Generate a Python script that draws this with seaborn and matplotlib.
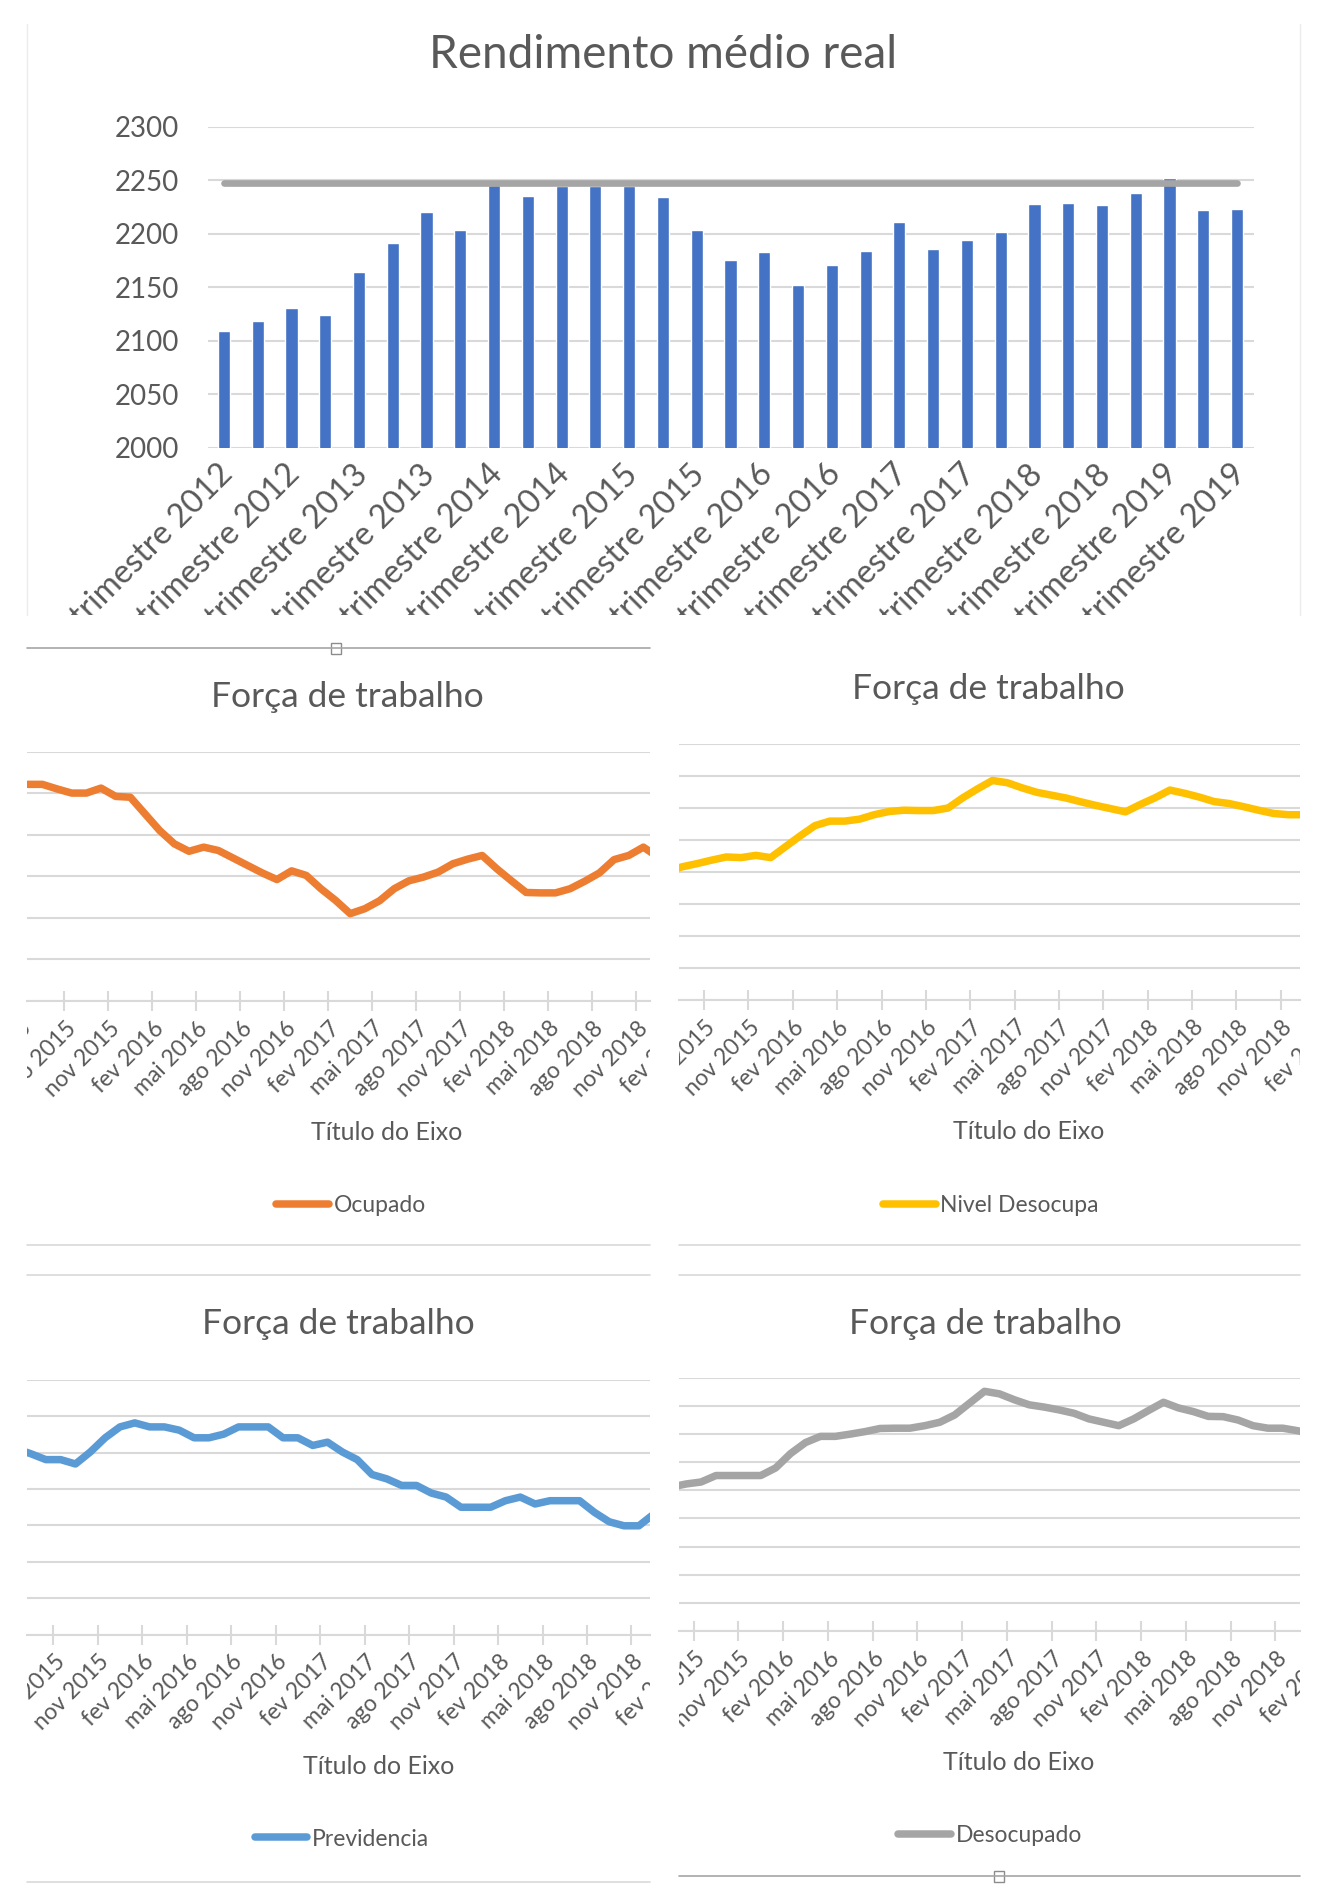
import numpy as np
import pandas as pd
import matplotlib
matplotlib.use("Agg")
import matplotlib.pyplot as plt
import seaborn as sns
from matplotlib.transforms import Bbox, TransformedBbox, blended_transform_factory, offset_copy
from matplotlib.patches import Rectangle
from matplotlib.lines import Line2D

sns.set_theme(style="white")
plt.rcParams['font.family'] = ['Lato', 'DejaVu Sans']

# ---------------- data ----------------
anos_tri = [2012, 2012, 2012, 2012, 2013, 2013, 2013, 2013, 2014, 2014, 2014, 2014,
            2015, 2015, 2015, 2015, 2016, 2016, 2016, 2016, 2017, 2017, 2017, 2017,
            2018, 2018, 2018, 2018, 2019, 2019, 2019]
num_tri = [1, 2, 3, 4] * 7 + [1, 2, 3]
trimestres = [f"{q}º trimestre {a}" for q, a in zip(num_tri, anos_tri)]
rendimento = [2109, 2119, 2131, 2124, 2164, 2191, 2220, 2204, 2246, 2235, 2245,
              2245, 2245, 2234, 2204, 2176, 2183, 2152, 2171, 2184, 2211, 2186,
              2194, 2202, 2228, 2229, 2227, 2238, 2252, 2222, 2223]
media_rendimento = 2247

meses = ["mai 2015", "jun 2015", "jul 2015", "ago 2015", "set 2015", "out 2015",
         "nov 2015", "dez 2015", "jan 2016", "fev 2016", "mar 2016", "abr 2016",
         "mai 2016", "jun 2016", "jul 2016", "ago 2016", "set 2016", "out 2016",
         "nov 2016", "dez 2016", "jan 2017", "fev 2017", "mar 2017", "abr 2017",
         "mai 2017", "jun 2017", "jul 2017", "ago 2017", "set 2017", "out 2017",
         "nov 2017", "dez 2017", "jan 2018", "fev 2018", "mar 2018", "abr 2018",
         "mai 2018", "jun 2018", "jul 2018", "ago 2018", "set 2018", "out 2018",
         "nov 2018", "dez 2018", "jan 2019", "fev 2019"]
rotulos_meses = ["mai 2015", "ago 2015", "nov 2015", "fev 2016", "mai 2016", "ago 2016",
                 "nov 2016", "fev 2017", "mai 2017", "ago 2017", "nov 2017", "fev 2018",
                 "mai 2018", "ago 2018", "nov 2018", "fev 2019"]

ocupado = [5.21, 5.21, 5.10, 5.00, 5.00, 5.12, 4.92, 4.90, 4.50, 4.10, 3.78, 3.60,
           3.70, 3.62, 3.44, 3.26, 3.08, 2.92, 3.13, 3.02, 2.70, 2.42, 2.10, 2.22,
           2.41, 2.70, 2.89, 2.98, 3.10, 3.30, 3.41, 3.50, 3.18, 2.89, 2.61, 2.60,
           2.60, 2.70, 2.88, 3.08, 3.40, 3.50, 3.70, 3.46]
nivel_desocupa = [4.03, 4.16, 4.26, 4.37, 4.47, 4.45, 4.52, 4.45, 4.79, 5.13, 5.45, 5.59,
                  5.59, 5.65, 5.79, 5.89, 5.93, 5.92, 5.92, 6.00, 6.32, 6.60, 6.86, 6.79,
                  6.63, 6.49, 6.40, 6.31, 6.19, 6.08, 5.98, 5.88, 6.11, 6.32, 6.56, 6.46,
                  6.34, 6.20, 6.14, 6.04, 5.93, 5.83, 5.79, 5.79]
previdencia = [5.11, 4.97, 4.81, 4.81, 4.69, 5.02, 5.41, 5.71, 5.82, 5.71, 5.71, 5.62,
               5.41, 5.41, 5.51, 5.71, 5.71, 5.71, 5.41, 5.41, 5.20, 5.29, 5.02, 4.81,
               4.40, 4.28, 4.10, 4.10, 3.89, 3.78, 3.50, 3.50, 3.50, 3.68, 3.78, 3.59,
               3.68, 3.68, 3.68, 3.36, 3.10, 2.99, 2.99, 3.31]
desocupado = [5.11, 5.22, 5.29, 5.52, 5.52, 5.52, 5.52, 5.79, 6.30, 6.69, 6.91, 6.91,
              6.99, 7.08, 7.19, 7.20, 7.20, 7.29, 7.41, 7.67, 8.09, 8.51, 8.42, 8.21,
              8.03, 7.95, 7.85, 7.73, 7.53, 7.41, 7.29, 7.53, 7.83, 8.12, 7.92, 7.79,
              7.62, 7.61, 7.49, 7.29, 7.20, 7.20, 7.11, 6.99]

# ---------------- helpers ----------------
W, H = 1330, 1900
def fx(px): return px / W
def fy(py): return 1 - py / H

TXT = '#595959'
GRID = '#d9d9d9'
EDGE = '#a6a6a6'

fig = plt.figure(figsize=(W / 100, H / 100), dpi=100)
fig.patch.set_facecolor('white')

def hline(x0, x1, y, color=GRID, lw=1.2):
    fig.add_artist(Line2D([fx(x0), fx(x1)], [fy(y), fy(y)], transform=fig.transFigure,
                          color=color, lw=lw))

def vline(x, y0, y1, color='#ececec', lw=1.0):
    fig.add_artist(Line2D([fx(x), fx(x)], [fy(y0), fy(y1)], transform=fig.transFigure,
                          color=color, lw=lw))

def handle(x, y):
    fig.add_artist(Rectangle((fx(x - 5), fy(y + 6)), fx(10), 11 / H, transform=fig.transFigure,
                             facecolor='white', edgecolor='#8c8c8c', lw=1.0))

def clipbox(x0, x1, ytop, ybot):
    return TransformedBbox(Bbox.from_extents(fx(x0), fy(ybot), fx(x1), fy(ytop)), fig.transFigure)

# ---------------- top chart ----------------
vline(27, 24, 615)
vline(1300, 24, 615)
fig.text(fx(663), fy(55), "Rendimento médio real", ha='center', va='center',
         fontsize=33, color=TXT)

axt = fig.add_axes([fx(208), fy(448), fx(1254) - fx(208), fy(126.7) - fy(448)])
df_r = pd.DataFrame({'trimestre': trimestres, 'valor': rendimento})
sns.barplot(data=df_r, x='trimestre', y='valor', color='#4472C4', saturation=1,
            width=0.36, ax=axt, zorder=2)
sns.lineplot(x=np.arange(len(rendimento)), y=[media_rendimento] * len(rendimento),
             color='#A5A5A5', lw=4.8, ax=axt, zorder=3)
axt.set_yticks(np.arange(2000, 2301, 50))
axt.yaxis.grid(True, color=GRID, lw=1.5)
axt.set_axisbelow(True)
for s in axt.spines.values():
    s.set_visible(False)
axt.set_xlabel('')
axt.set_ylabel('')
pos = list(range(0, len(trimestres), 2))
axt.set_xticks([p - 0.2 for p in pos])
axt.set_xticklabels([trimestres[i] for i in pos], rotation=45, ha='right', va='top',
                    rotation_mode='anchor')
axt.tick_params(axis='x', length=0, pad=8, labelsize=23.5, labelcolor=TXT)
axt.tick_params(axis='y', length=0, pad=21, labelsize=20, labelcolor=TXT)
axt.set_xlim(-0.47, len(rendimento) - 0.5)
axt.set_ylim(2000, 2300)
cb = clipbox(27, 1300, 448, 615)
for lab in axt.get_xticklabels():
    lab.set_clip_on(True)
    lab.set_clip_box(cb)

# separator with handle
hline(27, 650, 648, color=EDGE, lw=1.2)
handle(336, 648)

# ---------------- line panels ----------------
def painel(rect, valores, inicio, ymax, cor, nome, xlim, titulo_xy, eixo_xy, leg_xy,
           xr, ybot):
    x0, x1, ytop, yaxis = rect
    ax = fig.add_axes([fx(x0), fy(yaxis), fx(x1) - fx(x0), fy(ytop) - fy(yaxis)])
    i0 = meses.index(inicio)
    df = pd.DataFrame({'pos': [i0 + i - 3 for i in range(len(valores))],
                       'valor': valores})
    sns.lineplot(data=df, x='pos', y='valor', color=cor, lw=5.4, ax=ax, label=nome,
                 solid_capstyle='round', solid_joinstyle='round')
    ax.set_yticks(np.arange(0, ymax + 1, 1))
    ax.set_yticklabels([])
    ax.yaxis.grid(True, color=GRID, lw=1.5)
    ax.set_axisbelow(True)
    for k, s in ax.spines.items():
        s.set_visible(k == 'bottom')
    ax.spines['bottom'].set_color(GRID)
    ax.spines['bottom'].set_linewidth(1.5)
    ax.set_xlabel('')
    ax.set_ylabel('')
    tpos = [-3 + 3 * i for i in range(len(rotulos_meses))]
    ax.set_xticks([])
    ax.set_xticks([p - 0.5 for p in tpos], minor=True)
    ax.tick_params(axis='x', which='minor', length=14, width=1.5, color=GRID,
                   direction='inout', bottom=True)
    ax.tick_params(axis='y', length=0)
    ax.set_xlim(*xlim)
    ax.set_ylim(0, ymax)
    # month labels (also those whose anchor lies just outside the visible window)
    cbx = clipbox(xr[0], xr[1], yaxis, ybot)
    trans = offset_copy(blended_transform_factory(ax.transData, ax.transAxes),
                        fig=fig, x=0, y=-12, units='points')
    for p, lab in zip(tpos, rotulos_meses):
        t = ax.text(p - 0.45, 0, lab, transform=trans, rotation=45, ha='right',
                    va='top', rotation_mode='anchor', fontsize=16.5, color=TXT)
        t.set_clip_path(None)
        t.set_clip_on(True)
        t.set_clip_box(cbx)
    fig.text(fx(titulo_xy[0]), fy(titulo_xy[1]), "Força de trabalho", ha='center',
             va='center', fontsize=25.5, color=TXT)
    fig.text(fx(eixo_xy[0]), fy(eixo_xy[1]), "Título do Eixo", ha='center',
             va='center', fontsize=18, color=TXT)
    ax.legend(loc='center', bbox_to_anchor=(fx(leg_xy[0]), fy(leg_xy[1])),
              bbox_transform=fig.transFigure, frameon=False, fontsize=16.5,
              handlelength=2.3, handletextpad=0.2, labelcolor=TXT)
    return ax

painel((27, 650, 751.5, 1001), ocupado, "mai 2015", 6, '#ED7D31', 'Ocupado',
       (-3.05, 39.45), (347, 697), (387, 1133), (351, 1206), (27, 650), 1245)
painel((679, 1300, 744, 1000), nivel_desocupa, "mai 2015", 8, '#FFC000', 'Nivel Desocupa',
       (-2.2, 39.8), (988, 689), (1029, 1131.5), (991, 1206), (679, 1300), 1245)
painel((27, 650, 1380, 1634.5), previdencia, "mai 2015", 7, '#5B9BD5', 'Previdencia',
       (-2.27, 39.75), (338.5, 1324), (378.5, 1766), (342, 1839), (27, 650), 1882)
painel((679, 1300, 1377.5, 1631), desocupado, "jun 2015", 9, '#A5A5A5', 'Desocupado',
       (-1.48, 40.15), (985.5, 1324), (1019, 1762), (990, 1835.5), (679, 1300), 1876)

# panel frame lines
hline(27, 650, 1245)
hline(679, 1300, 1245)
hline(27, 650, 1275)
hline(679, 1300, 1275)
hline(27, 650, 1882)
hline(679, 1300, 1876, color=EDGE, lw=1.2)
handle(999, 1876)

fig.savefig("out.png", dpi=100, facecolor='white')
